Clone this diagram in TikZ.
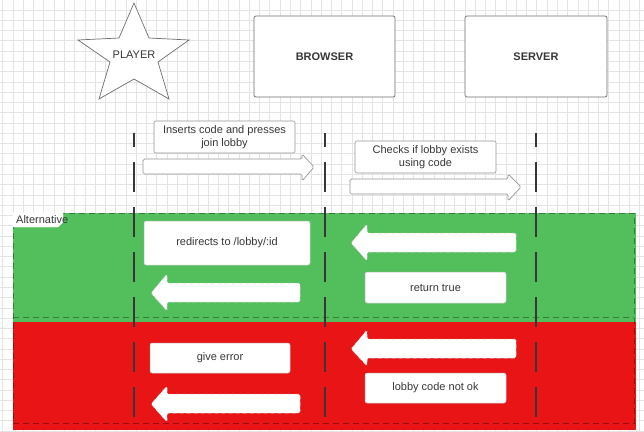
\documentclass[tikz,border=0pt]{standalone}
\usepackage{fontspec}
\setmainfont{Liberation Sans}
\definecolor{altgreen}{RGB}{82,190,92}
\definecolor{altred}{RGB}{232,20,22}
\definecolor{gridc}{RGB}{228,228,228}
\definecolor{txt}{RGB}{55,55,55}
\definecolor{edge}{RGB}{110,110,110}
\definecolor{lightedge}{RGB}{150,150,150}
\tikzset{
  actorbox/.style={draw=edge, line width=0.7pt, rounded corners=2pt, fill=white, text=txt, font=\fontsize{11}{13}\selectfont\bfseries, inner sep=0pt},
  msgbox/.style={draw=lightedge, line width=0.6pt, rounded corners=2pt, fill=white, text=txt, font=\fontsize{11}{13}\selectfont, align=center, inner sep=0pt},
  altbox/.style={draw=black!25, line width=0.5pt, rounded corners=2pt, fill=white, text=txt, font=\fontsize{11}{13}\selectfont, align=center, inner sep=0pt},
  outarrow/.style={draw=lightedge, line width=0.7pt, fill=white, rounded corners=1.5pt},
  whitearrow/.style={draw=black!20, dash pattern=on 4pt off 3pt, line width=0.5pt, fill=white, rounded corners=1.5pt},
  lifeline/.style={draw=txt, line width=1.3pt, dash pattern=on 30pt off 15pt, dash phase=16pt},
  frameline/.style={draw=black, draw opacity=0.35, line width=0.8pt, dash pattern=on 6pt off 4pt},
  gridline/.style={draw=gridc, line width=0.6pt}
}
\begin{document}
\begin{tikzpicture}[x=1pt,y=-1pt]
\useasboundingbox (0,0) rectangle (644,431);
\fill[white] (0,0) rectangle (644,431);
% grid
\foreach \i in {0,...,62} \draw[gridline] ({2.7+\i*10.27},0) -- ({2.7+\i*10.27},431);
\foreach \j in {0,...,42} \draw[gridline] (0,{-0.3+\j*10.27}) -- (644,{-0.3+\j*10.27});

% actors
\draw[draw=edge, line width=0.7pt, fill=white] (134,3) -- (149,38) -- (189,40) -- (158,62) -- (169,99) -- (134,79) -- (99,99) -- (110,62) -- (78,40) -- (119,38) -- cycle;
\node[text=txt, font=\fontsize{11}{13}\selectfont] (player) at (134,55) {PLAYER};
\node[actorbox, minimum width=141pt, minimum height=81pt] (browser) at (324.5,56.5) {BROWSER};
\node[actorbox, minimum width=142pt, minimum height=81pt] (server) at (536,56.5) {SERVER};

% alternative fragment fills
\fill[altgreen] (13,213) rectangle (636,322);
\fill[altred] (13,322) rectangle (636,430);
\draw[frameline] (13,213) rectangle (634,423);
\draw[frameline] (13,317) -- (634,317);
\draw[draw=white, fill=white, line width=0.4pt] (13,213) -- (63,213) -- (63,222) -- (58,227) -- (13,227) -- cycle;
\node[anchor=base west, text=txt, font=\fontsize{11}{13}\selectfont, inner sep=0pt] (altlabel) at (16,223) {Alternative};

% lifelines
\coordinate (pl1) at (134,133); \coordinate (pl2) at (134,420);
\coordinate (bl1) at (325,133); \coordinate (bl2) at (325,420);
\coordinate (sl1) at (536,133); \coordinate (sl2) at (536,420);
\draw[lifeline] (pl1) -- (pl2);
\draw[lifeline] (bl1) -- (bl2);
\draw[lifeline] (sl1) -- (sl2);

% request messages
\node[msgbox, minimum width=141pt, minimum height=32pt] (msg1) at (224.5,137) {Inserts code and presses\\join lobby};
\draw[outarrow] (143,159) -- (302,159) -- (302,154) -- (314,167) -- (302,181) -- (302,174) -- (143,174) -- cycle;
\node[msgbox, minimum width=141pt, minimum height=32pt] (msg2) at (425.5,157) {Checks if lobby exists\\using code};
\draw[outarrow] (350,179) -- (508,179) -- (508,174) -- (521,187) -- (508,201) -- (508,194) -- (350,194) -- cycle;

% success branch
\draw[whitearrow] (516,233) -- (367,233) -- (367,224) -- (351,243) -- (367,261) -- (367,252) -- (516,252) -- cycle;
\node[altbox, minimum width=141pt, minimum height=31pt] (ret) at (435.5,287.5) {return true};
\node[altbox, minimum width=166pt, minimum height=44pt] (redir) at (227,243) {redirects to /lobby/:id};
\draw[whitearrow] (300,283) -- (167,283) -- (167,274) -- (151,293) -- (167,311) -- (167,302) -- (300,302) -- cycle;

% failure branch
\draw[whitearrow] (516,339) -- (367,339) -- (367,330) -- (351,349) -- (367,366) -- (367,358) -- (516,358) -- cycle;
\node[altbox, minimum width=141pt, minimum height=30pt] (notok) at (435.5,388) {lobby code not ok};
\node[altbox, minimum width=140pt, minimum height=30pt] (err) at (220,358) {give error};
\draw[whitearrow] (300,394) -- (167,394) -- (167,386) -- (151,404) -- (167,422) -- (167,413) -- (300,413) -- cycle;
\end{tikzpicture}
\end{document}
